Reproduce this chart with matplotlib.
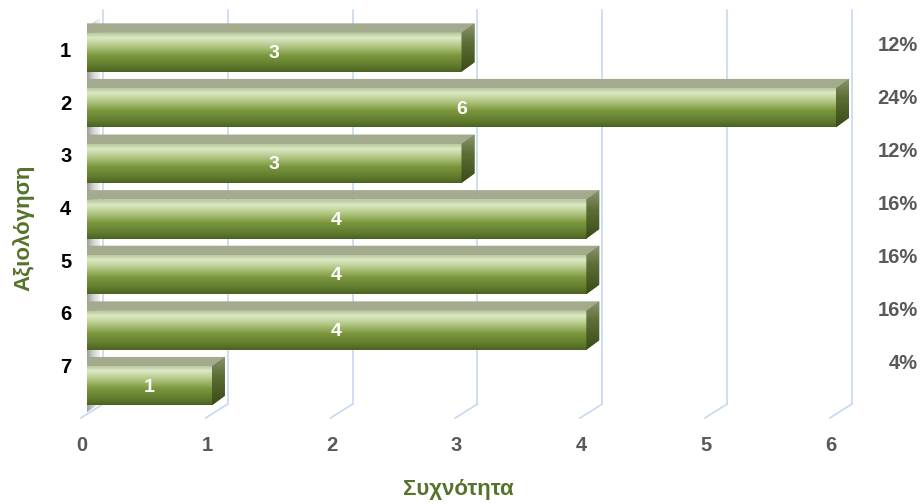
import numpy as np
import matplotlib.pyplot as plt
from matplotlib.colors import LinearSegmentedColormap
from matplotlib.patches import Polygon
import matplotlib.transforms as mtransforms

plt.rcParams['font.family'] = ['Liberation Sans', 'DejaVu Sans']
plt.rcParams['font.weight'] = 'bold'

ratings = ['1', '2', '3', '4', '5', '6', '7']
counts = [3, 6, 3, 4, 4, 4, 1]
shares = ['12%', '24%', '12%', '16%', '16%', '16%', '4%']
freq_ticks = [0, 1, 2, 3, 4, 5, 6]

W, H = 924, 504
X0_PX, UNIT_PX = 87, 124.83      # pixel of count 0, pixels per count
ROW0_PX, ROW_PX = 52.3, 55.6     # centre of first bar, bar spacing
BOX = (56, 5, 874, 425)          # plot box: left, top, right, bottom (px)

BAR_H = 0.70                     # front face height in rows
DX, DY = 13 / UNIT_PX, 9.5 / ROW_PX   # depth of the 3d bars

TITLE_GREEN = '#56732b'
GREY = '#595959'
GRID = '#c6d9f1'
NUM_SIZE = 14.5
TITLE_SIZE = 16

front_cmap = LinearSegmentedColormap.from_list('front', [
    (0.0, '#b9c99b'), (0.12, '#dde8c6'), (0.32, '#b5ca88'),
    (0.58, '#7b973c'), (0.85, '#5f7a2d'), (1.0, '#4b6121')])
side_cmap = LinearSegmentedColormap.from_list('side', [
    (0.0, '#8d9572'), (0.4, '#5d6e35'), (1.0, '#3a4a17')])
wall_cmap = LinearSegmentedColormap.from_list('wall', [
    (0.0, '#9c9c9c'), (0.5, '#d4d4d4'), (1.0, '#f4f4f4')])


def px_to_x(px):
    return (px - X0_PX) / UNIT_PX


def py_to_row(py, first=ROW0_PX, step=ROW_PX):
    return (py - first) / step


def gradient_fill(ax, patch, extent, cmap, horizontal=False, zorder=3):
    grad = np.linspace(0, 1, 256)
    grad = grad.reshape(1, -1) if horizontal else grad.reshape(-1, 1)
    im = ax.imshow(grad, extent=extent, cmap=cmap, aspect='auto',
                   interpolation='bilinear', zorder=zorder)
    im.set_clip_path(patch)


def hide_frame(a):
    for s in a.spines.values():
        s.set_visible(False)
    a.tick_params(length=0)


fig = plt.figure(figsize=(W / 100, H / 100), dpi=100)
left, top, right, bottom = BOX
rect = [left / W, 1 - bottom / H, (right - left) / W, (bottom - top) / H]
ax = fig.add_axes(rect)

# back wall grid lines and their floor segments
for k in freq_ticks:
    xb, xf = k + 0.128, k - 0.05
    ax.plot([xb, xb], [py_to_row(10), py_to_row(404)], color=GRID, lw=1.2, zorder=1)
    ax.plot([xb, xf], [py_to_row(404), py_to_row(418)], color=GRID, lw=1.2, zorder=1)

# left side wall
wall = Polygon([(0, py_to_row(412)), (0, py_to_row(27)),
                (0.104, py_to_row(18)), (0.104, py_to_row(403))],
               closed=True, facecolor='#d0d0d0', edgecolor='none', zorder=1.5)
ax.add_patch(wall)
gradient_fill(ax, wall, (0, 0.104, py_to_row(412), py_to_row(18)), wall_cmap,
              horizontal=True, zorder=1.6)

rows = np.arange(len(counts))
bars = ax.barh(rows, counts, height=BAR_H, left=0, color='#7b973c', zorder=3)

for i, (bar, v) in enumerate(zip(bars, counts)):
    y_top, y_bot = i - BAR_H / 2, i + BAR_H / 2
    gradient_fill(ax, bar, (0, v, y_bot, y_top), front_cmap, zorder=3.1)

    top_face = Polygon([(0, y_top), (v, y_top), (v + DX, y_top - DY), (0, y_top - DY)],
                       closed=True, facecolor='#a3ab8e', edgecolor='none', zorder=3)
    ax.add_patch(top_face)

    side = Polygon([(v, y_top), (v + DX, y_top - DY), (v + DX, y_bot - DY), (v, y_bot)],
                   closed=True, facecolor='#5d6e35', edgecolor='none', zorder=3)
    ax.add_patch(side)
    gradient_fill(ax, side, (v, v + DX, y_bot, y_top - DY), side_cmap, zorder=3.1)

    ax.text(v / 2, i + 0.02, str(v), color='white', fontsize=NUM_SIZE - 0.5,
            fontweight='bold', ha='center', va='center', zorder=10)

ax.set_xlim(px_to_x(left), px_to_x(right))
ax.set_ylim(py_to_row(bottom), py_to_row(top))
hide_frame(ax)
ax.set_yticks([])
ax.set_xticks(freq_ticks)
ax.set_xticklabels([str(t) for t in freq_ticks], color=GREY, fontsize=NUM_SIZE,
                   fontweight='bold')
ax.tick_params(axis='x', pad=8)
shift = mtransforms.ScaledTranslation(-5 / 100, 0, fig.dpi_scale_trans)
for lab in ax.get_xticklabels():
    lab.set_transform(lab.get_transform() + shift)

# rating labels on the left
axl = ax.twinx()
axl.set_ylim(py_to_row(bottom, 49.5, 52.7), py_to_row(top, 49.5, 52.7))
axl.yaxis.set_ticks_position('left')
axl.set_yticks(rows)
axl.set_yticklabels(ratings, color='black', fontsize=NUM_SIZE, fontweight='bold')
axl.tick_params(axis='y', pad=-11)
hide_frame(axl)

# percentage labels on the right
axr = ax.twinx()
axr.set_ylim(py_to_row(bottom, 43.7, 53), py_to_row(top, 43.7, 53))
axr.set_yticks(rows)
axr.set_yticklabels(shares, color=GREY, fontsize=NUM_SIZE, fontweight='bold', ha='right')
axr.tick_params(axis='y', pad=31.5)
hide_frame(axr)

fig.text(458 / W, 1 - 489 / H, 'Συχνότητα', color=TITLE_GREEN, fontsize=TITLE_SIZE,
         fontweight='bold', ha='center', va='center')
fig.text(23 / W, 1 - 228 / H, 'Αξιολόγηση', color=TITLE_GREEN, fontsize=TITLE_SIZE,
         fontweight='bold', ha='center', va='center', rotation=90)

fig.savefig('out.png', dpi=100)
